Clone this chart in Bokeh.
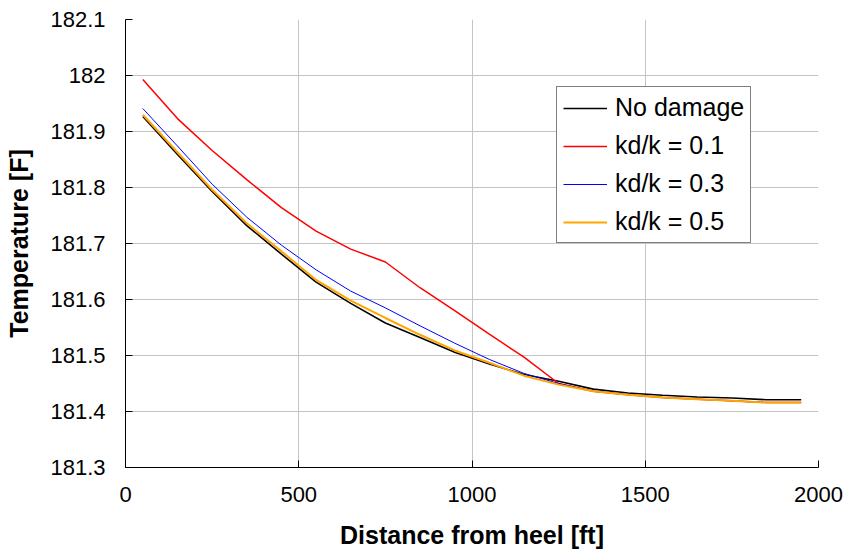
from bokeh.plotting import figure
from bokeh.models import FixedTicker, Range1d
from bokeh.embed import file_html
from bokeh.resources import INLINE

# ---- data ----
distance = [50, 150, 250, 350, 450, 550, 650, 750, 850, 950,
            1050, 1150, 1250, 1350, 1450, 1550, 1650, 1750, 1850, 1950]
no_damage = [181.927, 181.859, 181.793, 181.732, 181.681, 181.631, 181.593, 181.558, 181.532, 181.506,
             181.485, 181.466, 181.454, 181.440, 181.433, 181.429, 181.426, 181.424, 181.421, 181.421]
kd_01 = [181.993, 181.923, 181.866, 181.814, 181.764, 181.722, 181.690, 181.667, 181.621, 181.580,
         181.538, 181.497, 181.450, 181.436, 181.430, 181.425, 181.422, 181.419, 181.416, 181.416]
kd_03 = [181.941, 181.874, 181.806, 181.747, 181.697, 181.653, 181.615, 181.585, 181.553, 181.522,
         181.493, 181.468, 181.450, 181.436, 181.430, 181.425, 181.422, 181.419, 181.416, 181.416]
kd_05 = [181.930, 181.863, 181.796, 181.736, 181.686, 181.635, 181.598, 181.567, 181.537, 181.509,
         181.487, 181.464, 181.448, 181.436, 181.430, 181.425, 181.422, 181.419, 181.416, 181.416]

series_labels = ["No damage", "kd/k = 0.1", "kd/k = 0.3", "kd/k = 0.5"]
x_ticks = [0, 500, 1000, 1500, 2000]
y_ticks = [181.3, 181.4, 181.5, 181.6, 181.7, 181.8, 181.9, 182.0, 182.1]
y_tick_labels = ["181.3", "181.4", "181.5", "181.6", "181.7", "181.8", "181.9", "182", "182.1"]

FONT = "Liberation Sans"

p = figure(width=846, height=558, output_backend="svg", toolbar_location=None,
           x_range=Range1d(0, 2000), y_range=Range1d(181.3, 182.1),
           min_border_left=125, min_border_right=28, min_border_top=19, min_border_bottom=91)

p.outline_line_color = None
p.background_fill_color = "white"
p.border_fill_color = "white"

series = [(no_damage, "black", 1.6), (kd_01, "#ff0000", 1.5), (kd_03, "#0000ff", 1.0), (kd_05, "#ffa500", 2.0)]
for (vals, color, lw), lab in zip(series, series_labels):
    p.line(distance, vals, line_color=color, line_width=lw, legend_label=lab)

# axes
p.xaxis.ticker = FixedTicker(ticks=x_ticks)
p.yaxis.ticker = FixedTicker(ticks=y_ticks)
p.yaxis.major_label_overrides = {t: l for t, l in zip(y_ticks, y_tick_labels)}
p.xaxis.major_label_overrides = {t: str(t) for t in x_ticks}

for ax in (p.xaxis, p.yaxis):
    ax.axis_line_color = "black"
    ax.axis_line_width = 1
    ax.major_tick_in = 7
    ax.major_tick_out = 0
    ax.minor_tick_line_color = None
    ax.major_tick_line_color = "black"
    ax.major_label_text_font = FONT
    ax.major_label_text_font_size = "22px"
    ax.major_label_text_color = "black"
    ax.axis_label_text_font = FONT
    ax.axis_label_text_font_size = "25px"
    ax.axis_label_text_font_style = "bold"
    ax.axis_label_text_color = "black"

p.xaxis.axis_label = "Distance from heel [ft]"
p.yaxis.axis_label = "Temperature [F]"
p.xaxis.major_label_standoff = 19
p.yaxis.major_label_standoff = 20
p.xaxis.axis_label_standoff = 16
p.yaxis.axis_label_standoff = 14

p.xgrid.ticker = FixedTicker(ticks=x_ticks)
p.ygrid.ticker = FixedTicker(ticks=y_ticks)
p.grid.grid_line_color = "#c4c4c4"
p.grid.grid_line_width = 1

# legend
lg = p.legend[0]
lg.location = (431, 224)
lg.border_line_color = "black"
lg.border_line_width = 1
lg.background_fill_color = "white"
lg.background_fill_alpha = 1
lg.label_text_font = FONT
lg.label_text_font_size = "25px"
lg.label_text_color = "black"
lg.glyph_width = 44
lg.glyph_height = 28
lg.label_height = 28
lg.label_standoff = 8
lg.padding = 6
lg.spacing = 9
lg.margin = 0

open("out.html", "w").write(file_html(p, INLINE))
